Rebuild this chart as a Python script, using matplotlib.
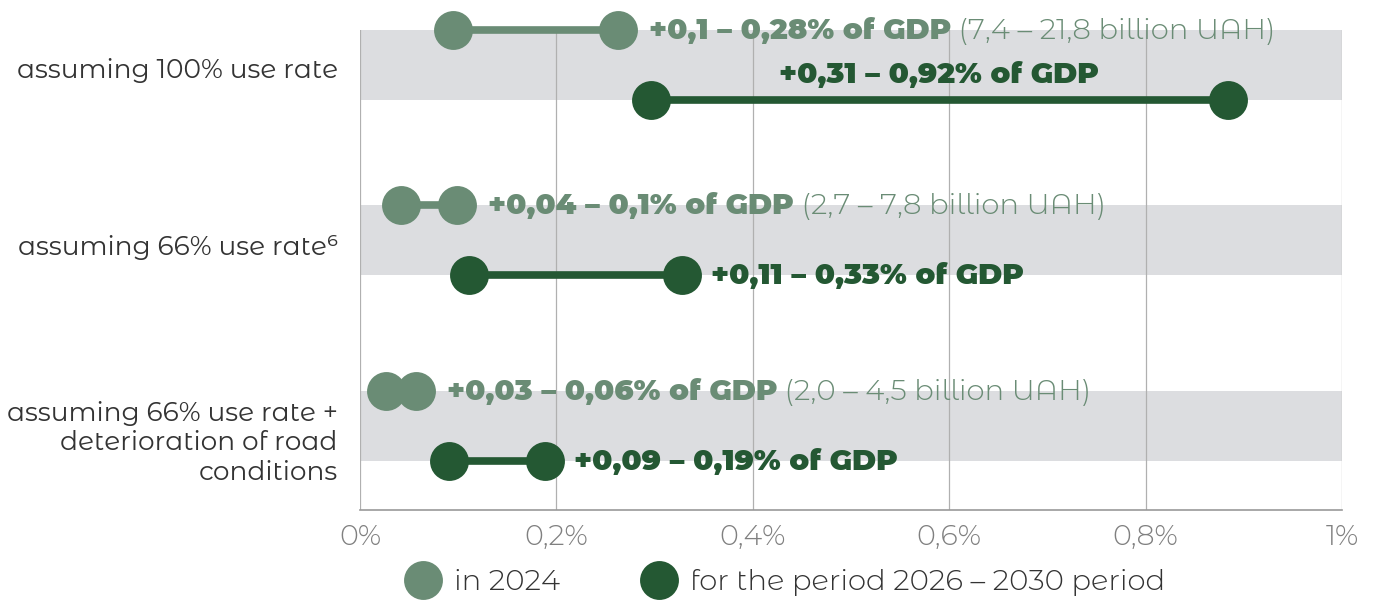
import numpy as np
import matplotlib
matplotlib.use("Agg")
import matplotlib.pyplot as plt
from matplotlib.lines import Line2D

# values (% of GDP)
scenarios = ["assuming 100% use rate", "assuming 66% use rate\u2076",
             "assuming 66% use rate +\ndeterioration of road\nconditions"]
low_2024 = [0.095, 0.042, 0.026]
high_2024 = [0.263, 0.099, 0.057]
low_2030 = [0.296, 0.111, 0.091]
high_2030 = [0.884, 0.328, 0.188]
labels_2024 = ["+0,1 \u2013 0,28% of GDP", "+0,04 \u2013 0,1% of GDP", "+0,03 \u2013 0,06% of GDP"]
uah_2024 = ["(7,4 \u2013 21,8 billion UAH)", "(2,7 \u2013 7,8 billion UAH)", "(2,0 \u2013 4,5 billion UAH)"]
labels_2030 = ["+0,31 \u2013 0,92% of GDP", "+0,11 \u2013 0,33% of GDP", "+0,09 \u2013 0,19% of GDP"]
xticks = [0, 0.2, 0.4, 0.6, 0.8, 1.0]
xticklabels = ["0%", "0,2%", "0,4%", "0,6%", "0,8%", "1%"]

LIGHT = "#6a8c75"
DARK = "#245833"
BAND = "#dcdde0"
GRID = "#b0b0b0"
FONT = ["Montserrat Alternates", "Lato", "DejaVu Sans"]
plt.rcParams["font.family"] = FONT

fig = plt.figure(figsize=(13.74, 6.03), dpi=100)
ax = fig.add_axes([360 / 1374, 1 - 510 / 603, 982 / 1374, 480 / 603])

# layout: row centres and band half height in axis units (0 at top)
rows = np.array([35, 210, 396])
half = 35
ax.set_xlim(0, 1)
ax.set_ylim(480, 0)

for r in rows:
    ax.axhspan(r - half, r + half, color=BAND, lw=0, zorder=0)
for x in xticks:
    ax.axvline(x, color=GRID, lw=0.9, zorder=1)

MS = 28
for i, r in enumerate(rows):
    yl, yd = r - half, r + half
    ax.plot([low_2024[i], high_2024[i]], [yl, yl], color=LIGHT, lw=5.5,
            marker="o", ms=MS, mew=0, solid_capstyle="butt", zorder=3, clip_on=False)
    ax.plot([low_2030[i], high_2030[i]], [yd, yd], color=DARK, lw=5.5,
            marker="o", ms=MS, mew=0, solid_capstyle="butt", zorder=3, clip_on=False)
    t1 = ax.annotate(labels_2024[i], (high_2024[i], yl), xytext=(22, -1),
                     textcoords="offset points", va="center", ha="left",
                     fontsize=21, fontweight="black", color=LIGHT, zorder=4,
                     annotation_clip=False)
    ax.annotate(" " + uah_2024[i], (1, 0.5), xycoords=t1, va="center", ha="left",
                fontsize=21, fontweight=300, color=LIGHT, zorder=4,
                annotation_clip=False)
    if i == 0:
        ax.annotate(labels_2030[i], ((low_2030[i] + high_2030[i]) / 2, yd - 25),
                    va="center", ha="center", fontsize=21, fontweight="black",
                    color=DARK, zorder=4, annotation_clip=False)
    else:
        ax.annotate(labels_2030[i], (high_2030[i], yd), xytext=(21, -1),
                    textcoords="offset points", va="center", ha="left",
                    fontsize=21, fontweight="black", color=DARK, zorder=4,
                    annotation_clip=False)

ax.set_yticks(rows + np.array([3, 5, 12]))
ax.set_yticklabels(scenarios, fontsize=19, color="#333333", ha="right", linespacing=1.25)
ax.set_xticks(xticks)
ax.set_xticklabels(xticklabels, fontsize=20.5, color="#808080", fontweight=300)
ax.tick_params(length=0)
ax.tick_params(axis="y", pad=16)
ax.tick_params(axis="x", pad=10)
for s in ["top", "right", "left"]:
    ax.spines[s].set_visible(False)
ax.spines["bottom"].set_color("#999999")
ax.spines["bottom"].set_linewidth(1.2)

handles = [Line2D([], [], ls="none", marker="o", ms=MS, mew=0, color=LIGHT),
           Line2D([], [], ls="none", marker="o", ms=MS, mew=0, color=DARK)]
ax.legend(handles, ["in 2024", "for the period 2026 \u2013 2030 period"], ncol=2,
          loc="center left", bbox_to_anchor=(43 / 982, -73 / 480), frameon=False,
          borderpad=0, borderaxespad=0, prop={"size": 21, "weight": 300},
          handletextpad=0.35, columnspacing=2.7, handlelength=1.4,
          labelcolor="#333333")

fig.savefig("out.png", dpi=100)
